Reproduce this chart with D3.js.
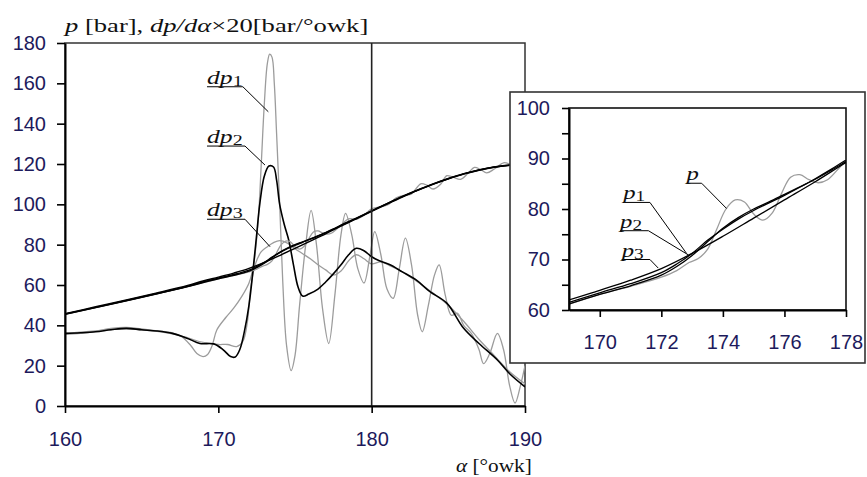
<!DOCTYPE html>
<html>
<head>
<meta charset="utf-8">
<script src="https://cdn.jsdelivr.net/npm/d3@7"></script>
<style>
  body { margin: 0; background: #fff; }
  .tick text { font-family: "Liberation Sans", Arial, sans-serif; font-size: 20px; fill: #1d1a5c; }
</style>
</head>
<body>
<svg id="chart"></svg>
<script>
// ---- data (alpha in degrees) ----
var mainYTicks = [0, 20, 40, 60, 80, 100, 120, 140, 160, 180];
var mainXTicks = [160, 170, 180, 190];
var insetYTicks = [60, 65, 70, 75, 80, 85, 90, 95, 100];
var insetXTicks = [170, 172, 174, 176, 178];

// filtered pressure curves (black)
var p1 = [[160,45.5],[162,48.8],[164,52.2],[166,55.6],[168,59.2],[169,61.2],[170,63.1],[171,64.8],[172,66.9],[172.5,68.6],[173,70.8],[173.5,73.5],[174,76.2],[174.5,78.3],[175,80],[175.5,81.4],[176,82.9],[176.5,84.4],[177,85.9],[177.5,87.6],[178,89.4],[179,93],[180,96.7],[181,100.3],[182,103.8],[183,107],[184,110],[185,112.7],[186,115.1],[187,117],[188,118.5],[189,119.4],[190,120]];
var p2 = [[160,45.6],[162,48.9],[164,52.3],[166,55.8],[168,59.4],[169,61.5],[170,63.4],[171,65.2],[172,67.4],[172.5,69.1],[173,71.2],[173.5,73.8],[174,76],[174.5,78],[175,79.7],[175.5,81.2],[176,82.7],[176.5,84.3],[177,86],[177.5,87.8],[178,89.7],[179,93.2],[180,96.8],[181,100.4],[182,103.9],[183,107.1],[184,110.1],[185,112.8],[186,115.2],[187,117.1],[188,118.6],[189,119.5],[190,120.1]];
var p3 = [[160,45.8],[162,49.2],[164,52.6],[166,56.1],[168,59.8],[169,62],[170,63.9],[171,65.9],[172,68.2],[173,71.2],[174,74.6],[175,78.2],[176,81.8],[177,85.4],[178,89.2],[179,92.8],[180,96.5],[181,100.1],[182,103.6],[183,106.9],[184,109.9],[185,112.6],[186,115],[187,116.9],[188,118.4],[189,119.3],[190,119.9]];
// measured pressure (gray)
var pRaw = [[160,45.5],[164,52.2],[168,59.2],[170,63.1],[171,64.7],[172,66.5],[172.5,67.8],[172.9,69.4],[173.2,70.2],[173.5,72],[173.8,76],[174.1,80],[174.4,81.8],[174.7,81.4],[175,79],[175.3,77.8],[175.6,79.2],[175.9,83],[176.2,86.3],[176.5,86.8],[176.8,85.8],[177.1,85.2],[177.4,85.8],[177.7,87.6],[178,89.7],[178.5,92.8],[179,92.6],[179.5,94.6],[180,97.8],[180.6,98.8],[181.1,100],[181.6,103.2],[182.2,104.6],[182.6,105.2],[183.2,110.2],[183.6,109.5],[184,107.6],[184.5,110],[184.9,114.2],[185.3,113.5],[185.8,112.4],[186.3,115.5],[186.7,118.3],[187.1,117.3],[187.5,115.6],[188,117.5],[188.6,120.6],[189,120],[189.4,118.6],[189.7,119.3],[190,120.5]];

// derivative curves x20
var dp1 = [[160,35.5],[161,36],[162,37],[163,38.5],[164,39],[165,38.2],[166,37.3],[167,36.3],[167.6,34.5],[168.2,30],[168.6,26],[169,24.5],[169.3,25.5],[169.6,30],[169.9,37.7],[170.5,44],[171,48.5],[171.5,54],[172,61],[172.3,70],[172.6,92],[172.8,120],[173,150],[173.2,170],[173.35,174.5],[173.5,173],[173.65,160],[173.8,135],[174,100],[174.2,62],[174.45,30],[174.75,17.5],[175,25],[175.3,50],[175.7,80],[176.05,97],[176.4,80],[176.8,48],[177.2,31],[177.6,55],[178,85],[178.3,95.5],[178.7,85],[179.1,68],[179.5,61],[179.9,75],[180.2,86.5],[180.6,75],[181,58],[181.4,53.4],[181.8,68],[182.2,83.2],[182.6,70],[183,45],[183.3,36.8],[183.7,50],[184.1,65],[184.4,70],[184.8,55],[185.2,45],[185.6,46],[186,40],[186.5,36],[187,28],[187.3,21],[187.7,26],[188.2,36],[188.6,28],[189,10],[189.35,1.5],[189.7,10],[190,20]];
var dp2 = [[160,36],[161,36.3],[162,36.8],[163,37.8],[164,38.5],[165,37.8],[166,37.2],[167,36],[168,33.5],[168.8,31],[169.7,30.8],[170.3,28],[170.8,24.5],[171.1,24.3],[171.4,28],[171.7,37],[172,50],[172.3,70],[172.5,85],[172.7,100],[173,114],[173.3,119],[173.6,118.5],[173.8,112],[174,100],[174.3,90],[174.6,82],[174.9,70],[175.2,59],[175.5,54.5],[175.9,55.5],[176.5,58],[177,61.5],[177.5,65.5],[178,70],[178.5,75],[179,78.2],[179.5,77],[180,74],[180.5,72],[181.2,70],[182,66.5],[182.9,62.5],[183.8,56.7],[184.9,51],[186,38.5],[187,31],[188.2,22.8],[189,16],[190,9.5]];
var dp3 = [[160,36],[162,37.2],[164,38.3],[166,37],[167,35.8],[168,33.8],[169,31.5],[170,30.5],[170.6,30.5],[171.2,29.5],[171.6,32],[171.9,42],[172.1,58],[172.4,70],[172.8,76.5],[173.2,79],[173.6,81],[174,82],[174.5,80.8],[175,78],[175.5,75.5],[176,73],[176.5,70],[177,67.5],[177.5,65],[178,67],[178.5,72],[179,75],[179.5,73],[180,70.5],[180.6,71.5],[181.2,69.5],[182,66.5],[183,61.5],[184,56],[185,50],[186,42],[187,33],[188,25],[189,17],[190,11]];

// curve labels: [name, subscript, underline start x, underline end x, underline y, leader end x, leader end y]
var mainLabels = [
  ["dp", "1", 169.26, 171.6, 158.3, 173.26, 145.9],
  ["dp", "2", 169.26, 171.74, 128.9, 173.04, 119.5],
  ["dp", "3", 169.26, 171.74, 92.6, 173.37, 79]
];
var insetLabels = [
  ["p", "", 172.82, 173.31, 85.1, 174.12, 80.1],
  ["p", "1", 170.76, 171.63, 81.3, 172.82, 71.2],
  ["p", "2", 170.66, 171.58, 75.7, 172.88, 70.9],
  ["p", "3", 170.71, 171.63, 70.0, 171.9, 68.3]
];

var w = 867, h = 477;
var svg = d3.select("#chart").attr("width", w).attr("height", h);

var serif = '"Liberation Serif", "Times New Roman", serif';
var GRAY = "#9c9c9c";

var x = d3.scaleLinear().domain([160, 190]).range([65, 525]);
var y = d3.scaleLinear().domain([0, 180]).range([406, 43]);

var ix = d3.scaleLinear().domain([169, 178]).range([569, 846]);
var iy = d3.scaleLinear().domain([60, 100]).range([310, 108]);

var defs = svg.append("defs");
defs.append("clipPath").attr("id", "clipMain").append("rect")
  .attr("x", x(160)).attr("y", y(180)).attr("width", x(190) - x(160)).attr("height", y(0) - y(180));
defs.append("clipPath").attr("id", "clipInset").append("rect")
  .attr("x", ix(169)).attr("y", iy(100)).attr("width", ix(178) - ix(169)).attr("height", iy(60) - iy(100));

// serif text stretched wider like the original
function serifText(g, px, py, parts, size, sx) {
  var t = g.append("text")
    .attr("transform", "translate(" + px + "," + py + ") scale(" + sx + ",1)")
    .attr("font-family", serif).attr("font-size", size).attr("fill", "#111");
  parts.forEach(function(p) {
    var s = t.append("tspan").text(p[0]);
    if (p[1]) s.attr("font-style", "italic");
    if (p[2]) s.attr("font-size", size * 0.78).attr("dy", 2);
  });
  return t;
}

// ---- main chart ----
var main = svg.append("g");

main.append("rect")
  .attr("x", x(160)).attr("y", y(180))
  .attr("width", x(190) - x(160)).attr("height", y(0) - y(180))
  .attr("fill", "none").attr("stroke", "#333").attr("stroke-width", 1.5);

var line = d3.line()
  .x(function(d) { return x(d[0]); })
  .y(function(d) { return y(d[1]); })
  .curve(d3.curveCatmullRom.alpha(0.5));

var curves = main.append("g").attr("clip-path", "url(#clipMain)");
curves.append("path").datum(dp3).attr("d", line).attr("fill", "none").attr("stroke", GRAY).attr("stroke-width", 1.3);
curves.append("path").datum(dp1).attr("d", line).attr("fill", "none").attr("stroke", GRAY).attr("stroke-width", 1.3);
curves.append("path").datum(dp2).attr("d", line).attr("fill", "none").attr("stroke", "#000").attr("stroke-width", 1.6);
curves.append("path").datum(pRaw).attr("d", line).attr("fill", "none").attr("stroke", GRAY).attr("stroke-width", 1.3);
[p1, p2, p3].forEach(function(s) {
  curves.append("path").datum(s).attr("d", line).attr("fill", "none").attr("stroke", "#000").attr("stroke-width", 1.4);
});

// vertical marker at 180
main.append("line")
  .attr("x1", x(180)).attr("x2", x(180)).attr("y1", y(180)).attr("y2", y(0))
  .attr("stroke", "#222").attr("stroke-width", 1.6);

var yAxis = main.append("g")
  .attr("transform", "translate(" + x(160) + ",0)")
  .call(d3.axisLeft(y).tickValues(mainYTicks).tickSize(8).tickSizeOuter(0).tickPadding(11));
var xAxis = main.append("g")
  .attr("transform", "translate(0," + y(0) + ")")
  .call(d3.axisBottom(x).tickValues(mainXTicks).tickSize(7).tickSizeOuter(0).tickPadding(19));
[yAxis, xAxis].forEach(function(a) {
  a.select(".domain").attr("stroke", "#000").attr("stroke-width", 2);
  a.selectAll(".tick line").attr("stroke", "#000").attr("stroke-width", 1.6);
});

mainLabels.forEach(function(l) {
  main.append("line")
    .attr("x1", x(l[2])).attr("x2", x(l[3])).attr("y1", y(l[4])).attr("y2", y(l[4]))
    .attr("stroke", "#000").attr("stroke-width", 1);
  main.append("line")
    .attr("x1", x(l[3])).attr("x2", x(l[5])).attr("y1", y(l[4])).attr("y2", y(l[6]))
    .attr("stroke", "#000").attr("stroke-width", 1);
  serifText(main, x(l[2]), y(l[4]) - 3, [[l[0], true], [l[1], false, true]], 19, 1.35);
});

// axis titles
serifText(svg, 65, 32, [["p", true], [" [bar], ", false], ["dp/d\u03b1", true], ["\u00d720[bar/\u00b0owk]", false]], 19, 1.4);
serifText(svg, 456, 472, [["\u03b1", true], [" [\u00b0owk]", false]], 19, 1.12);

// ---- inset ----
var inset = svg.append("g");
inset.append("rect")
  .attr("x", 510).attr("y", 92).attr("width", 355).attr("height", 271)
  .attr("fill", "#fff").attr("stroke", "#333").attr("stroke-width", 1.6);

inset.append("rect")
  .attr("x", ix(169)).attr("y", iy(100))
  .attr("width", ix(178) - ix(169)).attr("height", iy(60) - iy(100))
  .attr("fill", "none").attr("stroke", "#111").attr("stroke-width", 1.6);

var iline = d3.line()
  .x(function(d) { return ix(d[0]); })
  .y(function(d) { return iy(d[1]); })
  .curve(d3.curveCatmullRom.alpha(0.5));

var icurves = inset.append("g").attr("clip-path", "url(#clipInset)");
icurves.append("path").datum(pRaw).attr("d", iline).attr("fill", "none").attr("stroke", GRAY).attr("stroke-width", 1.3);
[p1, p2, p3].forEach(function(s) {
  icurves.append("path").datum(s).attr("d", iline).attr("fill", "none").attr("stroke", "#000").attr("stroke-width", 1.3);
});

var iyAxis = inset.append("g")
  .attr("transform", "translate(" + ix(169) + ",0)")
  .call(d3.axisLeft(iy).tickValues(insetYTicks).tickSize(7).tickSizeOuter(0).tickPadding(12)
    .tickFormat(function(d) { return d % 10 === 0 ? d : ""; }));
var ixAxis = inset.append("g")
  .attr("transform", "translate(0," + iy(60) + ")")
  .call(d3.axisBottom(ix).tickValues(insetXTicks).tickSize(7).tickSizeOuter(0).tickPadding(18));
[iyAxis, ixAxis].forEach(function(a) {
  a.select(".domain").attr("stroke", "#000").attr("stroke-width", 2);
  a.selectAll(".tick line").attr("stroke", "#000").attr("stroke-width", 1.6);
});

insetLabels.forEach(function(l) {
  inset.append("line")
    .attr("x1", ix(l[2])).attr("x2", ix(l[3])).attr("y1", iy(l[4])).attr("y2", iy(l[4]))
    .attr("stroke", "#000").attr("stroke-width", 1);
  inset.append("line")
    .attr("x1", ix(l[3])).attr("x2", ix(l[5])).attr("y1", iy(l[4])).attr("y2", iy(l[6]))
    .attr("stroke", "#000").attr("stroke-width", 1);
  var parts = [[l[0], true]];
  if (l[1]) parts.push([l[1], false, true]);
  serifText(inset, ix(l[2]), iy(l[4]) - 3, parts, 19, 1.3);
});
</script>
</body>
</html>
